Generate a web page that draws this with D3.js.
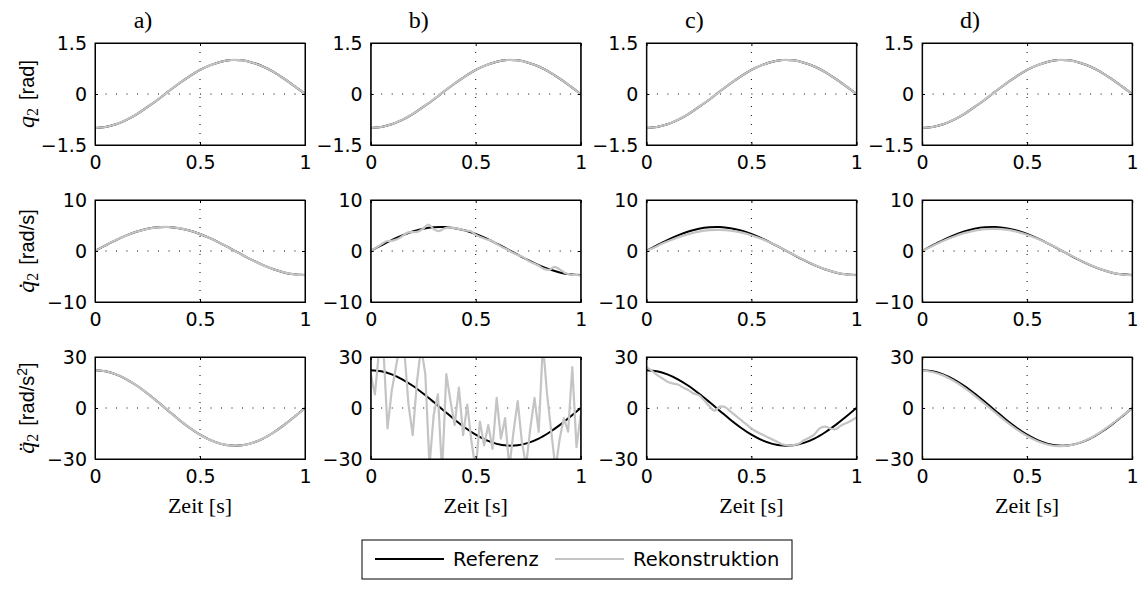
<!DOCTYPE html>
<html>
<head>
<meta charset="utf-8">
<script src="https://cdn.jsdelivr.net/npm/d3@7/dist/d3.min.js"></script>
<style>
  body { margin: 0; background: #fff; }
  svg { display: block; }
</style>
</head>
<body>
<div id="chart"></div>
<script>
// time grids [s]
var t20 = [0,0.05,0.1,0.15,0.2,0.25,0.3,0.35,0.4,0.45,0.5,0.55,0.6,0.65,0.7,0.75,0.8,0.85,0.9,0.95,1];
var t40 = [0,0.025,0.05,0.075,0.1,0.125,0.15,0.175,0.2,0.225,0.25,0.275,0.3,0.325,0.35,0.375,0.4,0.425,0.45,0.475,
           0.5,0.525,0.55,0.575,0.6,0.625,0.65,0.675,0.7,0.725,0.75,0.775,0.8,0.825,0.85,0.875,0.9,0.925,0.95,0.975,1];
var t50 = [0,0.02,0.04,0.06,0.08,0.1,0.12,0.14,0.16,0.18,0.2,0.22,0.24,0.26,0.28,0.3,0.32,0.34,0.36,0.38,
           0.4,0.42,0.44,0.46,0.48,0.5,0.52,0.54,0.56,0.58,0.6,0.62,0.64,0.66,0.68,0.7,0.72,0.74,0.76,0.78,
           0.8,0.82,0.84,0.86,0.88,0.9,0.92,0.94,0.96,0.98,1];

// Referenz (same in all columns)
var qRef   = [-1,-0.97,-0.89,-0.76,-0.59,-0.38,-0.16,0.08,0.31,0.52,0.71,0.85,0.95,1.0,0.99,0.92,0.81,0.65,0.45,0.23,0];
var qdRef  = [0,1.10,2.14,3.06,3.81,4.35,4.65,4.70,4.48,4.02,3.33,2.46,1.46,0.37,-0.73,-1.80,-2.77,-3.58,-4.20,-4.58,-4.71];
var qddRef = [22.2,21.6,19.8,16.9,13.1,8.5,3.5,-1.7,-6.9,-11.6,-15.7,-18.9,-21.1,-22.1,-21.9,-20.5,-18.0,-14.4,-10.1,-5.2,0];

// Rekonstruktion
var qdB  = [0,0.6,1.3,1.9,2.0,2.3,2.9,3.6,3.7,3.8,4.4,5.2,4.3,3.9,4.4,4.6,4.5,4.3,4.0,3.9,
            3.2,2.7,2.3,2.0,1.4,0.8,0.3,-0.3,-0.8,-1.2,-1.9,-2.4,-2.9,-3.5,-3.7,-3.1,-3.6,-4.3,-4.6,-4.7,-4.8];
var qddB = [20,8,34,36,-12,10,24,38,34,2,-16,15,36,20,-34,-4,8,-38,20,4,
            -10,12,-16,2,-20,-36,-8,-22,-10,-24,6,-18,-6,-35,-14,4,-20,-34,-12,6,
            -14,38,8,-14,-36,-18,-6,-14,24,-23,-4];
var qdC  = [0,0.95,1.85,2.65,3.3,3.8,4.1,4.15,4.0,3.65,3.1,2.35,1.45,0.4,-0.7,-1.75,-2.75,-3.55,-4.2,-4.6,-4.75];
var qddC = [24,22,19.5,17.5,15.5,14.5,13.8,12.0,10.5,8.5,7.5,4.5,1.0,-1.5,0.8,0.5,-2.0,-4.5,-7.0,-9.5,
            -12.0,-14.0,-15.5,-17.0,-18.5,-20.0,-21.5,-22.0,-21.8,-21.0,-19.0,-17.5,-15.5,-12.0,-11.0,-12.0,-12.5,-10.5,-9.0,-7.5,-5.5];
var qdD  = [0,1.0,1.95,2.8,3.5,4.0,4.3,4.35,4.2,3.8,3.2,2.4,1.45,0.4,-0.7,-1.75,-2.75,-3.55,-4.2,-4.6,-4.75];
var qddD = [22.0,21.2,19.2,16.0,12.0,7.3,2.3,-2.9,-8.0,-12.6,-16.5,-19.6,-21.6,-22.4,-22.0,-20.4,-17.8,-14.1,-9.8,-5.0,-0.2];

var colLabels = ["a)", "b)", "c)", "d)"];
var rowDomains = [[-1.5, 1.5], [-10, 10], [-30, 30]];
var rowTicks = [[-1.5, 0, 1.5], [-10, 0, 10], [-30, 0, 30]];
var xTicks = [0, 0.5, 1];
var legendLabels = ["Referenz", "Rekonstruktion"];

var refs = [[t20, qRef], [t20, qdRef], [t20, qddRef]];
var recons = [
  [[t20, qRef], [t20, qdRef], [t20, qddRef]],
  [[t20, qRef], [t40, qdB], [t50, qddB]],
  [[t20, qRef], [t20, qdC], [t40, qddC]],
  [[t20, qRef], [t20, qdD], [t20, qddD]]
];

var W = 1139, H = 601;
var left0 = 95, colStep = 275.7, pw = 210;
var top0 = 43, rowStep = 157, ph = 102;
var sans = "'Liberation Sans', Arial, sans-serif";
var tickFont = "'DejaVu Sans', sans-serif";
var serif = "'Liberation Serif', 'DejaVu Serif', serif";
var refColor = "#000", recColor = "#c4c4c4";

var svg = d3.select("#chart").append("svg")
    .attr("width", W)
    .attr("height", H);

var fmt = function (v) { return v < 0 ? "\u2212" + Math.abs(v) : String(v); };

colLabels.forEach(function (lab, c) {
  var x0 = left0 + c * colStep;
  svg.append("text")
      .attr("x", x0 + 48)
      .attr("y", 28)
      .attr("text-anchor", "middle")
      .style("font-family", serif)
      .style("font-size", "24px")
      .text(lab);

  rowDomains.forEach(function (dom, r) {
    var y0 = top0 + r * rowStep;
    var x = d3.scaleLinear().domain([0, 1]).range([0, pw]);
    var y = d3.scaleLinear().domain(dom).range([ph, 0]);
    var g = svg.append("g").attr("transform", "translate(" + x0 + "," + y0 + ")");
    var clipId = "clip" + c + r;
    g.append("clipPath").attr("id", clipId)
      .append("rect").attr("width", pw).attr("height", ph);

    // dotted grid
    g.append("line")
        .attr("x1", x(0.5)).attr("x2", x(0.5)).attr("y1", 0).attr("y2", ph)
        .attr("stroke", "#000").attr("stroke-width", 1).attr("stroke-dasharray", "1,8");
    g.append("line")
        .attr("x1", 0).attr("x2", pw).attr("y1", y(0)).attr("y2", y(0))
        .attr("stroke", "#000").attr("stroke-width", 1).attr("stroke-dasharray", "1,9.5");

    var smooth = d3.line()
        .x(function (d) { return x(d[0]); })
        .y(function (d) { return y(d[1]); })
        .curve(d3.curveCatmullRom);
    var jagged = d3.line()
        .x(function (d) { return x(d[0]); })
        .y(function (d) { return y(d[1]); });

    var ref = d3.zip(refs[r][0], refs[r][1]);
    var rec = d3.zip(recons[c][r][0], recons[c][r][1]);
    var plot = g.append("g").attr("clip-path", "url(#" + clipId + ")");
    plot.append("path").datum(ref)
        .attr("d", smooth).attr("fill", "none")
        .attr("stroke", refColor).attr("stroke-width", 2);
    plot.append("path").datum(rec)
        .attr("d", recons[c][r][0].length > 45 ? jagged : smooth).attr("fill", "none")
        .attr("stroke", recColor).attr("stroke-width", 2.2)
        .attr("stroke-linejoin", "round");

    // axes: ticks inside, labels outside
    var xa = d3.axisBottom(x).tickValues(xTicks).tickSize(-3).tickPadding(11)
        .tickFormat(function (d) { return String(d); });
    var xt = d3.axisTop(x).tickValues(xTicks).tickSize(-3).tickFormat("");
    var ya = d3.axisLeft(y).tickValues(rowTicks[r]).tickSize(-3).tickPadding(8).tickFormat(fmt);
    var yr = d3.axisRight(y).tickValues(rowTicks[r]).tickSize(-3).tickFormat("");

    g.append("g").attr("transform", "translate(0," + ph + ")").call(xa);
    g.append("g").call(xt);
    g.append("g").call(ya);
    g.append("g").attr("transform", "translate(" + pw + ",0)").call(yr);
    g.selectAll(".domain").attr("stroke", "#000").attr("stroke-width", 1);
    g.selectAll(".tick line").attr("stroke", "#000");
    g.selectAll(".tick text")
        .style("font-family", tickFont)
        .style("font-size", "19px")
        .attr("fill", "#000");
    g.append("rect").attr("width", pw).attr("height", ph)
        .attr("fill", "none").attr("stroke", "#000").attr("stroke-width", 1);

    if (r === 2) {
      g.append("text")
          .attr("x", pw / 2)
          .attr("y", ph + 54)
          .attr("text-anchor", "middle")
          .style("font-family", serif)
          .style("font-size", "22px")
          .text("Zeit [s]");
    }
  });
});

// y axis labels
var yLabels = [
  { sym: "q", unit: "[rad]", sup: null },
  { sym: "q\u0307", unit: "[rad/s]", sup: null },
  { sym: "q\u0308", unit: "[rad/s", sup: "2" }
];
yLabels.forEach(function (l, r) {
  var cy = top0 + r * rowStep + ph / 2;
  var t = svg.append("text")
      .attr("transform", "translate(34," + cy + ") rotate(-90)")
      .attr("text-anchor", "middle")
      .style("font-size", "20px");
  t.append("tspan").style("font-family", serif).style("font-style", "italic")
      .style("font-size", "24px").text(l.sym);
  t.append("tspan").style("font-family", serif).style("font-size", "16px").attr("dy", 4).text("2");
  t.append("tspan").style("font-family", sans).attr("dy", -4).attr("dx", 8).text(l.unit);
  if (l.sup) {
    t.append("tspan").style("font-family", sans).style("font-size", "14px").attr("dy", -7).text(l.sup);
    t.append("tspan").style("font-family", sans).attr("dy", 7).text("]");
  }
});

// legend
var lg = svg.append("g");
lg.append("rect")
    .attr("x", 362).attr("y", 540).attr("width", 430).attr("height", 39)
    .attr("fill", "#fff").attr("stroke", "#000").attr("stroke-width", 1);
var legendItems = [
  { label: legendLabels[0], color: refColor, x: 375 },
  { label: legendLabels[1], color: recColor, x: 555 }
];
legendItems.forEach(function (it) {
  lg.append("line")
      .attr("x1", it.x).attr("x2", it.x + 69).attr("y1", 559).attr("y2", 559)
      .attr("stroke", it.color).attr("stroke-width", 2);
  lg.append("text")
      .attr("x", it.x + 78).attr("y", 566)
      .style("font-family", tickFont).style("font-size", "19.5px")
      .text(it.label);
});
</script>
</body>
</html>
